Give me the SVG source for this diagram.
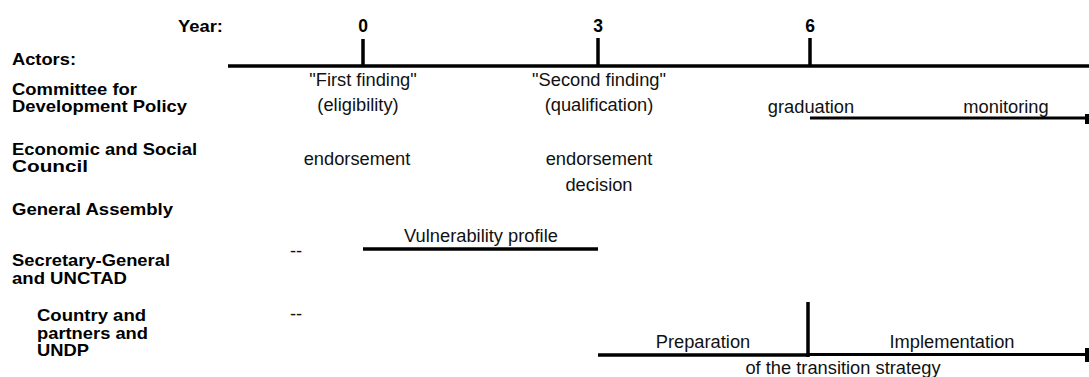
<svg xmlns="http://www.w3.org/2000/svg" width="1089" height="377" viewBox="0 0 1089 377">
  <style>
    .lbl { font-family: "Liberation Sans", Arial, sans-serif; font-weight: bold; font-size: 16.5px; fill: #000; }
    .yr { font-family: "Liberation Sans", Arial, sans-serif; font-weight: bold; font-size: 17.5px; fill: #000; text-anchor: middle; }
    .txt { font-family: "Liberation Sans", Arial, sans-serif; font-size: 18.3px; fill: #111; text-anchor: middle; }
    .ln { stroke: #000; stroke-width: 3.5; fill: none; }
    .ln2 { stroke: #000; stroke-width: 3; fill: none; }
  </style>
  <rect width="1089" height="377" fill="#fff"/>

  <g id="axis">
    <text class="lbl" x="178" y="32" textLength="45" lengthAdjust="spacingAndGlyphs">Year:</text>
    <text class="yr" x="363" y="32">0</text>
    <text class="yr" x="598" y="32">3</text>
    <text class="yr" x="810" y="32">6</text>
    <line class="ln" x1="228" y1="66" x2="1089" y2="66"/>
    <line class="ln" x1="363" y1="39" x2="363" y2="66"/>
    <line class="ln" x1="598" y1="38" x2="598" y2="66"/>
    <line class="ln" x1="810" y1="38" x2="810" y2="66"/>
  </g>

  <g id="actors-label">
    <text class="lbl" x="12" y="65" textLength="64" lengthAdjust="spacingAndGlyphs">Actors:</text>
  </g>

  <g id="cdp">
    <text class="lbl" x="12" y="95" textLength="125" lengthAdjust="spacingAndGlyphs">Committee for</text>
    <text class="lbl" x="12" y="112" textLength="175" lengthAdjust="spacingAndGlyphs">Development Policy</text>
    <text class="txt" x="363" y="86">"First finding"</text>
    <text class="txt" x="358" y="111">(eligibility)</text>
    <text class="txt" x="599" y="86">"Second finding"</text>
    <text class="txt" x="599" y="111">(qualification)</text>
    <text class="txt" x="811" y="113">graduation</text>
    <text class="txt" x="1006" y="113">monitoring</text>
  </g>

  <g id="ecosoc">
    <text class="lbl" x="12" y="155" textLength="185" lengthAdjust="spacingAndGlyphs">Economic and Social</text>
    <text class="lbl" x="12" y="172" textLength="76" lengthAdjust="spacingAndGlyphs">Council</text>
    <text class="txt" x="357" y="165">endorsement</text>
    <text class="txt" x="599" y="165">endorsement</text>
    <text class="txt" x="599" y="191">decision</text>
  </g>

  <g id="ga">
    <text class="lbl" x="12" y="215" textLength="161" lengthAdjust="spacingAndGlyphs">General Assembly</text>
  </g>

  <g id="sg">
    <text class="lbl" x="12" y="266" textLength="158" lengthAdjust="spacingAndGlyphs">Secretary-General</text>
    <text class="lbl" x="12" y="284" textLength="115" lengthAdjust="spacingAndGlyphs">and UNCTAD</text>
    <text class="txt" x="296" y="257">--</text>
    <text class="txt" x="481" y="242">Vulnerability profile</text>
  </g>

  <g id="country">
    <text class="lbl" x="37" y="321" textLength="109" lengthAdjust="spacingAndGlyphs">Country and</text>
    <text class="lbl" x="37" y="339" textLength="111" lengthAdjust="spacingAndGlyphs">partners and</text>
    <text class="lbl" x="37" y="356" textLength="52" lengthAdjust="spacingAndGlyphs">UNDP</text>
    <text class="txt" x="296" y="320">--</text>
    <text class="txt" x="703" y="348">Preparation</text>
    <text class="txt" x="952" y="348">Implementation</text>
    <text class="txt" x="843" y="374">of the transition strategy</text>
  </g>

  <g id="connectors">
    <line class="ln2" x1="810" y1="118" x2="1087" y2="118"/>
    <rect x="1085" y="114" width="4" height="10" fill="#000"/>
    <line class="ln" x1="363" y1="249" x2="598" y2="249"/>
    <line class="ln" x1="598" y1="355" x2="808" y2="355" stroke-width="4"/>
    <line class="ln2" x1="808" y1="354.5" x2="1087" y2="354.5"/>
    <rect x="1085" y="348" width="4" height="14" fill="#000"/>
    <line class="ln" x1="808" y1="302" x2="808" y2="357"/>
  </g>
</svg>
